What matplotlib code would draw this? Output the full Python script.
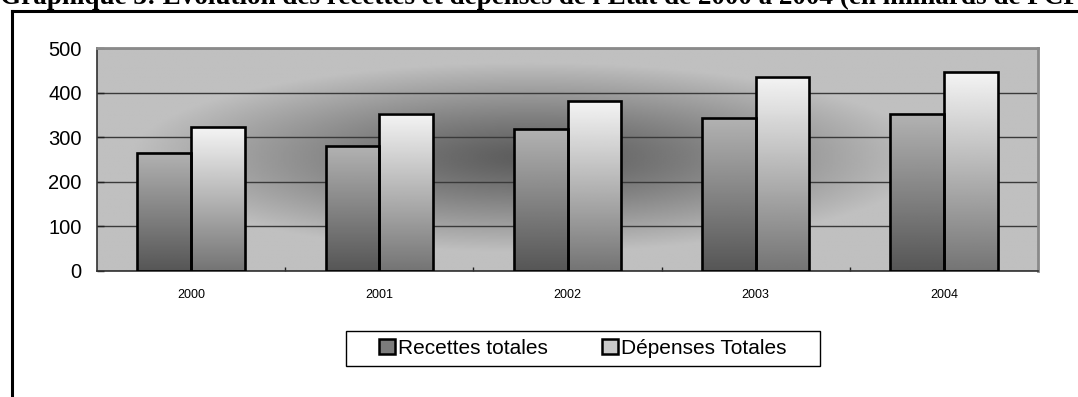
import numpy as np
import matplotlib.pyplot as plt
from matplotlib.lines import Line2D
from matplotlib.patches import Rectangle

# Recettes et dépenses de l'Etat (milliards de FCFA)
annees = ['2000', '2001', '2002', '2003', '2004']
recettes = [265, 280, 318, 342, 351]
depenses = [322, 353, 381, 436, 446]

titre = ("Graphique 3: Evolution des recettes et dépenses de l'Etat "
         "de 2000 à 2004 (en milliards de FCFA)")

W, H = 1078, 397
fig = plt.figure(figsize=(W / 100, H / 100), dpi=100)
ax = fig.add_axes([97 / W, 126 / H, 941 / W, 223 / H])

x = np.arange(len(annees))
w = 0.285

# fond gris en degrade radial (sombre au centre)
nx, ny = 600, 300
gx, gy = np.meshgrid(np.linspace(0, 1, nx), np.linspace(0, 1, ny))
r = np.sqrt(((gx - 0.46) / 0.425) ** 2 + ((gy - 0.49) / 0.426) ** 2)
r = np.clip(r, 0, 1) ** 1.2
fond = 92 + (192 - 92) * r
ax.imshow(fond, extent=[-0.5, 4.5, 0, 500], aspect='auto', cmap='gray',
          vmin=0, vmax=255, origin='upper', zorder=0, interpolation='bilinear')


def barres(pos, vals, haut, bas):
    grad = np.linspace(haut, bas, 200)[:, None]
    bs = ax.bar(pos, vals, w, facecolor='none', edgecolor='black',
                linewidth=1.9, zorder=3)
    for p in bs:
        x0, y0 = p.get_x(), p.get_y()
        ax.imshow(grad, extent=[x0, x0 + p.get_width(), y0, y0 + p.get_height()],
                  aspect='auto', cmap='gray', vmin=0, vmax=255,
                  origin='upper', zorder=2)


barres(x - w / 2, recettes, 178, 86)
barres(x + w / 2, depenses, 244, 116)

ax.set_xlim(-0.5, 4.5)
ax.set_ylim(0, 500)
ax.set_yticks([0, 100, 200, 300, 400, 500])
ax.set_xticks(x)
ax.set_xticklabels(annees)
ax.set_xticks(np.arange(0.5, 4.5, 1), minor=True)

ax.yaxis.grid(True, color='#3a3a3a', linewidth=1.0, zorder=1)
ax.set_axisbelow(True)

ax.tick_params(axis='y', direction='in', length=5, width=1, color='#202020',
               pad=11, labelsize=14.5)
ax.tick_params(axis='x', which='major', length=0, pad=13, labelsize=9)
ax.tick_params(axis='x', which='minor', direction='in', length=3, width=1,
               color='#202020')
for lab in ax.get_xticklabels() + ax.get_yticklabels():
    lab.set_fontfamily('Liberation Sans')

for s in ['left', 'bottom']:
    ax.spines[s].set_color('#303030')
    ax.spines[s].set_linewidth(1.2)
for s in ['top', 'right']:
    ax.spines[s].set_color('#8a8a8a')
    ax.spines[s].set_linewidth(2)

# legende (cadre dessine a part pour avoir la marge laterale)
poignees = [Rectangle((0, 0), 1, 1, facecolor='#7c7c7c', edgecolor='black', linewidth=1.8),
            Rectangle((0, 0), 1, 1, facecolor='#cacaca', edgecolor='black', linewidth=1.8)]
leg = fig.legend(poignees, ['Recettes totales', 'Dépenses Totales'],
                 loc='center', bbox_to_anchor=(583 / W, 1 - 348.5 / H),
                 ncol=2, prop={'family': 'Liberation Sans', 'size': 15},
                 handlelength=0.75, handleheight=0.75, handletextpad=0.15,
                 columnspacing=2.6, borderpad=0.25, borderaxespad=0,
                 frameon=False)
fig.add_artist(Rectangle((346 / W, 1 - 366 / H), 474 / W, 35 / H,
                         facecolor='white', edgecolor='black', linewidth=1,
                         transform=fig.transFigure, zorder=1))
leg.set_zorder(2)

# cadre et titre
fig.add_artist(Line2D([11.5 / W, 1.02], [1 - 10.5 / H] * 2, color='black',
                      linewidth=2.2, transform=fig.transFigure))
fig.add_artist(Line2D([11.5 / W] * 2, [-0.02, 1 - 10.5 / H], color='black',
                      linewidth=2.2, transform=fig.transFigure,
                      solid_capstyle='projecting'))
fig.text(0.0, 1 - 4 / H, titre, fontfamily='Liberation Serif', fontweight='bold',
         fontsize=19.5, ha='left', va='baseline')

fig.savefig('out.png', dpi=100)
